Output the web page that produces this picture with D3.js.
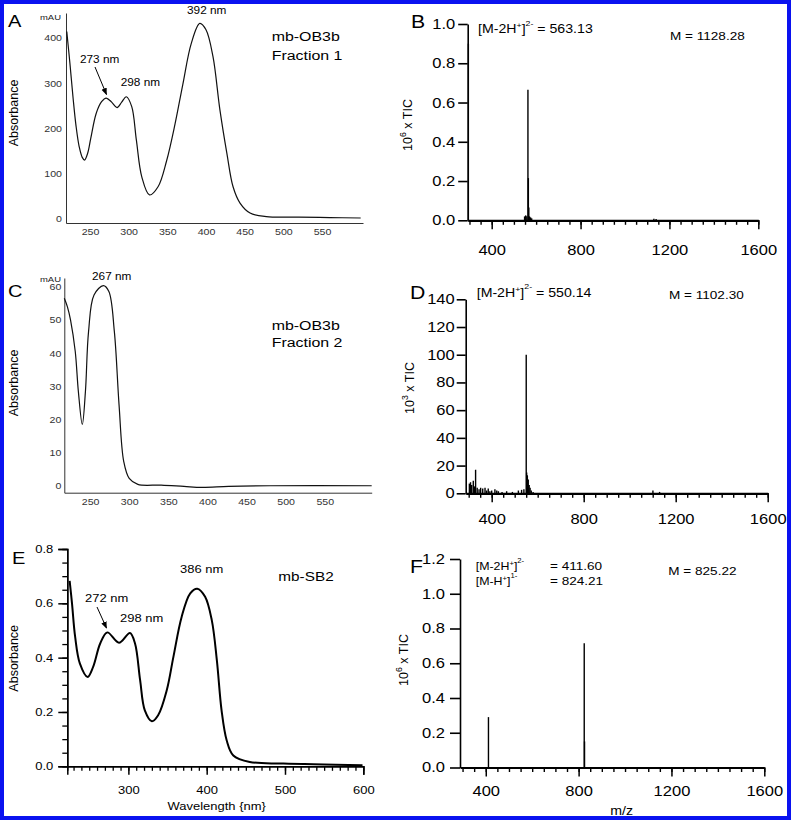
<!DOCTYPE html>
<html><head><meta charset="utf-8">
<script src="https://cdn.jsdelivr.net/npm/d3@7"></script>
<style>
body{margin:0;background:#fff}
svg{display:block}
text{font-family:"Liberation Sans",Arial,Helvetica,sans-serif}
</style>
</head><body>
<svg id="chart" width="791" height="820"></svg>
<script>
// ---------------- DATA ----------------
// Panel A: UV-vis mb-OB3b Fraction 1 (wavelength nm, absorbance mAU)
const uvA_wl  = [220,224,228,232,236,240,243,247,251,258,265,271,278,285,291,297,304,310,317,327,338,349,360,370,381,392,400,409,418,427,435,444,457,478,520,560,600];
const uvA_abs = [414,345,270,205,160,136,130,145,178,233,259,267,258,246,258,270,248,174,93,53,71,128,210,297,388,432,418,359,241,145,71,35,13,5,4,3,2];
const uvA_xticks = [250,300,350,400,450,500,550];
const uvA_yticks = [0,100,200,300,400];

// Panel C: UV-vis mb-OB3b Fraction 2 (mAU)
const uvC_wl  = [217,221,225,231,235,240,244,248,255,267,274,281,287,293,300,311,341,370,393,427,480,610];
const uvC_abs = [56.6,54,50,40.5,28.4,18.5,28.4,46.5,57.6,60.4,58.6,46.5,24.4,7.3,2.2,0.4,0.2,-0.2,-0.5,-0.2,0,0];
const uvC_xticks = [250,300,350,400,450,500,550];
const uvC_yticks = [0,10,20,30,40,50,60];

// Panel E: UV-vis mb-SB2 (absorbance)
const uvE_wl  = [225,228,232,238,248,255,264,273,288,302,308.5,315,321,330,338,349,357.5,368,379,388,398,406.5,413,419,425.5,434,455,498,599];
const uvE_abs = [0.683,0.6,0.477,0.379,0.329,0.366,0.452,0.493,0.455,0.491,0.452,0.317,0.206,0.166,0.188,0.28,0.403,0.55,0.637,0.654,0.624,0.538,0.39,0.206,0.096,0.04,0.016,0.01,0.004];
const uvE_xticks = [300,400,500,600];
const uvE_yticks = [0,0.2,0.4,0.6,0.8];

// Panel B: ESI-MS mb-OB3b Fraction 1 (m/z, 10^6 x TIC)
const msB_mz  = [295,548,553,558,563.13,565,567,570,575,580,1130,1140];
const msB_int = [0.90,0.02,0.025,0.02,0.665,0.215,0.065,0.02,0.015,0.01,0.008,0.006];
const msB_yticks = [0,0.2,0.4,0.6,0.8,1.0];

// Panel D: ESI-MS mb-OB3b Fraction 2 (m/z, 10^3 x TIC)
const msD_mz  = [303,308,313,320,326,330,337,345,352,361,371,378,385,392,400,414,422,429,445,465,490,516,530,540,550.14,552,555,559,563,567,572,580,1101,1130];
const msD_int = [7,8,6,9,5,17,4,3,4,3.5,4,2,3.5,1.5,2,3,2,1.5,1,1.5,1,2,2.5,3,100,15,13,10,6,4,2,1,2,1];
const msD_yticks = [0,20,40,60,80,100,120,140];

// Panel F: ESI-MS mb-SB2 (m/z, 10^6 x TIC)
const msF_mz  = [411.6,824.21,825.5];
const msF_int = [0.29,0.715,0.15];
const msF_yticks = [0,0.2,0.4,0.6,0.8,1.0,1.2];

const ms_xticks = [400,800,1200,1600];

// ---------------- DRAWING ----------------
const SX = 1.18;
const svg = d3.select("#chart");
svg.append("rect").attr("x",2).attr("y",2).attr("width",787).attr("height",816)
  .attr("fill","#fff").attr("stroke","#0a12f0").attr("stroke-width",4);

function label(x, y, str, size, anchor, fill) {
  return svg.append("text")
    .attr("transform", `translate(${x},${y}) scale(${SX},1)`)
    .attr("font-size", size).attr("text-anchor", anchor || "start")
    .attr("fill", fill || "#000").text(str);
}
function vlabel(x, y, size, parts) {
  const t = svg.append("text").attr("transform", `translate(${x},${y}) rotate(-90)`)
    .attr("font-size", size).attr("text-anchor","middle").attr("fill","#000");
  parts.forEach(p => {
    const ts = t.append("tspan").text(p.t);
    if (p.sup) ts.attr("font-size", size*0.7).attr("dy", -size*0.45);
    if (p.down) ts.attr("dy", size*0.45);
  });
  return t;
}
function styleAxis(g, size, color, width) {
  g.attr("font-family", null).attr("font-size", size);
  g.selectAll("path.domain").attr("stroke", color).attr("stroke-width", width);
  g.selectAll(".tick line").attr("stroke", color).attr("stroke-width", width);
  g.selectAll(".tick text").attr("fill", color).each(function(){
    const t = d3.select(this);
    const x = +t.attr("x") || 0, y = +t.attr("y") || 0;
    t.attr("x", null).attr("y", null).attr("transform", `translate(${x},${y}) scale(${SX},1)`);
  });
}

// ---- UV panels A and C (ChemStation style: no tick marks) ----
function uvSimple(wl, ab, xticks, yticks, xDom, xRng, yDom, yRng, ypad) {
  const x = d3.scaleLinear().domain(xDom).range(xRng);
  const y = d3.scaleLinear().domain(yDom).range(yRng);
  const gx = svg.append("g").attr("transform", `translate(0,${yRng[0]})`)
    .call(d3.axisBottom(x).tickValues(xticks).tickSize(0).tickPadding(6).tickFormat(d3.format("d")));
  styleAxis(gx, 9, "#333", 1);
  const gy = svg.append("g").attr("transform", `translate(${xRng[0]},0)`)
    .call(d3.axisLeft(y).tickValues(yticks).tickSize(0).tickPadding(ypad).tickFormat(d3.format("d")));
  styleAxis(gy, 9, "#333", 1);
  const line = d3.line().x((d,i)=>x(wl[i])).y((d,i)=>y(ab[i])).curve(d3.curveCatmullRom.alpha(0.5));
  svg.append("path").datum(wl).attr("d", line).attr("fill","none").attr("stroke","#111").attr("stroke-width",1.2);
  return {x, y};
}
uvSimple(uvA_wl, uvA_abs, uvA_xticks, uvA_yticks, [219,603], [66,363], [-9,455], [223,13], 4);
uvSimple(uvC_wl, uvC_abs, uvC_xticks, uvC_yticks, [217,610], [64.3,371.7], [-2.1,62.7], [492.7,278], 3);

// ---- UV panel E (Igor style) ----
(function(){
  const x = d3.scaleLinear().domain([222,600]).range([67.3,363.3]);
  const y = d3.scaleLinear().domain([0,0.8]).range([766.3,549]);
  const gxm = svg.append("g").attr("transform","translate(0,766.3)")
    .call(d3.axisBottom(x).tickValues(d3.range(230,600,10)).tickSize(4.5).tickFormat(""));
  styleAxis(gxm, 11, "#000", 1.3);
  const gx = svg.append("g").attr("transform","translate(0,766.3)")
    .call(d3.axisBottom(x).tickValues(uvE_xticks).tickSize(8.5).tickPadding(11).tickFormat(d3.format("d")));
  styleAxis(gx, 11, "#000", 1.5);
  const gym = svg.append("g").attr("transform","translate(67.3,0)")
    .call(d3.axisLeft(y).tickValues(d3.range(0.05,0.8,0.05)).tickSize(5).tickFormat(""));
  styleAxis(gym, 11, "#000", 1.3);
  const gy = svg.append("g").attr("transform","translate(67.3,0)")
    .call(d3.axisLeft(y).tickValues(uvE_yticks).tickSize(9).tickPadding(5).tickFormat(d3.format(".1f")));
  styleAxis(gy, 11, "#000", 1.5);
  const line = d3.line().x((d,i)=>x(uvE_wl[i])).y((d,i)=>y(uvE_abs[i])).curve(d3.curveCatmullRom.alpha(0.5));
  svg.append("path").datum(uvE_wl).attr("d", line).attr("fill","none").attr("stroke","#000").attr("stroke-width",2);
})();

// ---- MS panels ----
function msPanel(mz, inten, yticks, xDom, xRng, yDom, yRng, ytick, ypad, xpad, yfmt) {
  const x = d3.scaleLinear().domain(xDom).range(xRng);
  const y = d3.scaleLinear().domain(yDom).range(yRng);
  svg.append("g").selectAll("line").data(mz).join("line")
    .attr("x1",(d)=>x(d)).attr("x2",(d)=>x(d))
    .attr("y1", y(0)).attr("y2",(d,i)=>y(inten[i]))
    .attr("stroke","#000").attr("stroke-width",1.4);
  const gxm = svg.append("g").attr("transform",`translate(0,${yRng[0]})`)
    .call(d3.axisBottom(x).tickValues(d3.range(300,1601,50)).tickSize(4.5).tickSizeOuter(0).tickFormat(""));
  styleAxis(gxm, 14, "#000", 1.4);
  gxm.select("path.domain").attr("stroke-width", 2.2);
  const gx = svg.append("g").attr("transform",`translate(0,${yRng[0]})`)
    .call(d3.axisBottom(x).tickValues(ms_xticks).tickSize(9).tickSizeOuter(0).tickPadding(xpad).tickFormat(d3.format("d")));
  styleAxis(gx, 14, "#000", 1.5);
  gx.select("path.domain").remove();
  const gy = svg.append("g").attr("transform",`translate(${xRng[0]},0)`)
    .call(d3.axisLeft(y).tickValues(yticks).tickSize(ytick).tickSizeOuter(0).tickPadding(ypad).tickFormat(yfmt));
  styleAxis(gy, 14, "#000", 1.6);
  return {x, y};
}
msPanel(msB_mz, msB_int, msB_yticks, [292,1600], [467.7,758.3], [0,1], [220.3,24], 9.5, 3, 16, d3.format(".1f"));
msPanel(msD_mz, msD_int, msD_yticks, [287,1600], [465.7,767.7], [0,140], [493.3,299.3], 9, 2, 12, d3.format("d"));
msPanel(msF_mz, msF_int, msF_yticks, [289,1600], [460,764.3], [0,1.2], [767.5,559], 10, 5, 10, d3.format(".1f"));

// ---- Arrow marker ----
svg.append("defs").append("marker").attr("id","arr").attr("viewBox","0 0 10 10")
  .attr("refX",9).attr("refY",5).attr("markerWidth",7).attr("markerHeight",7).attr("orient","auto")
  .append("path").attr("d","M0,1 L10,5 L0,9 Z").attr("fill","#000");

// ---- Panel A texts ----
label(8, 27, "A", 17);
label(40, 20, "mAU", 8, "start", "#222");
label(206.7, 14, "392 nm", 10, "middle");
label(80, 63, "273 nm", 10);
label(120.7, 86, "298 nm", 10);
svg.append("line").attr("x1",95).attr("y1",67).attr("x2",106.5).attr("y2",94.5)
  .attr("stroke","#000").attr("stroke-width",1).attr("marker-end","url(#arr)");
label(271.7, 40.5, "mb-OB3b", 13.5);
label(271.7, 60, "Fraction 1", 13.5);
vlabel(18, 113, 12.5, [{t:"Absorbance"}]);

// ---- Panel C texts ----
label(8, 297, "C", 17);
label(40, 281.7, "mAU", 8, "start", "#222");
label(111.7, 280, "267 nm", 10, "middle");
label(271.7, 330, "mb-OB3b", 13.5);
label(271.7, 347, "Fraction 2", 13.5);
vlabel(18, 383, 12.5, [{t:"Absorbance"}]);

// ---- Panel E texts ----
label(12, 564, "E", 17);
label(201.7, 573.3, "386 nm", 11, "middle");
label(85, 601.7, "272 nm", 11);
label(120, 621.7, "298 nm", 11);
svg.append("line").attr("x1",97).attr("y1",607).attr("x2",106.5).attr("y2",628)
  .attr("stroke","#000").attr("stroke-width",1).attr("marker-end","url(#arr)");
label(278.3, 581, "mb-SB2", 13);
vlabel(17.5, 658.3, 12.5, [{t:"Absorbance"}]);
label(216.7, 810, "Wavelength {nm}", 11, "middle");

// ---- Panel B texts ----
function ionLabel(x, y, size, base, plus, charge, rest) {
  const t = svg.append("text").attr("transform", `translate(${x},${y}) scale(${SX},1)`).attr("font-size", size);
  t.append("tspan").text(base);
  t.append("tspan").text(plus).attr("font-size", size*0.62).attr("dy", -size*0.4);
  t.append("tspan").text("]").attr("dy", size*0.4);
  t.append("tspan").text(charge).attr("font-size", size*0.62).attr("dy", -size*0.62);
  t.append("tspan").text(rest).attr("dy", size*0.62);
  return t;
}
label(411, 28, "B", 18);
ionLabel(478, 33, 12, "[M-2H", "+", "2-", " = 563.13");
label(670, 40, "M = 1128.28", 11.5);
vlabel(412, 125, 12.5, [{t:"10"},{t:"6",sup:true},{t:" x TIC",down:true}]);

// ---- Panel D texts ----
label(410, 298.5, "D", 18);
ionLabel(476.7, 296.7, 12, "[M-2H", "+", "2-", " = 550.14");
label(669, 299, "M = 1102.30", 11.5);
vlabel(414, 388, 12.5, [{t:"10"},{t:"3",sup:true},{t:" x TIC",down:true}]);

// ---- Panel F texts ----
label(410, 573, "F", 18);
ionLabel(475.7, 570, 10.5, "[M-2H", "+", "2-", "");
ionLabel(475.7, 585, 10.5, "[M-H", "+", "1-", "");
label(550, 570, "= 411.60", 11.5);
label(550, 585, "= 824.21", 11.5);
label(668.3, 575, "M = 825.22", 11.5);
vlabel(408, 660, 12.5, [{t:"10"},{t:"6",sup:true},{t:" x TIC",down:true}]);
label(621.7, 815, "m/z", 12, "middle");
</script>
</body></html>
